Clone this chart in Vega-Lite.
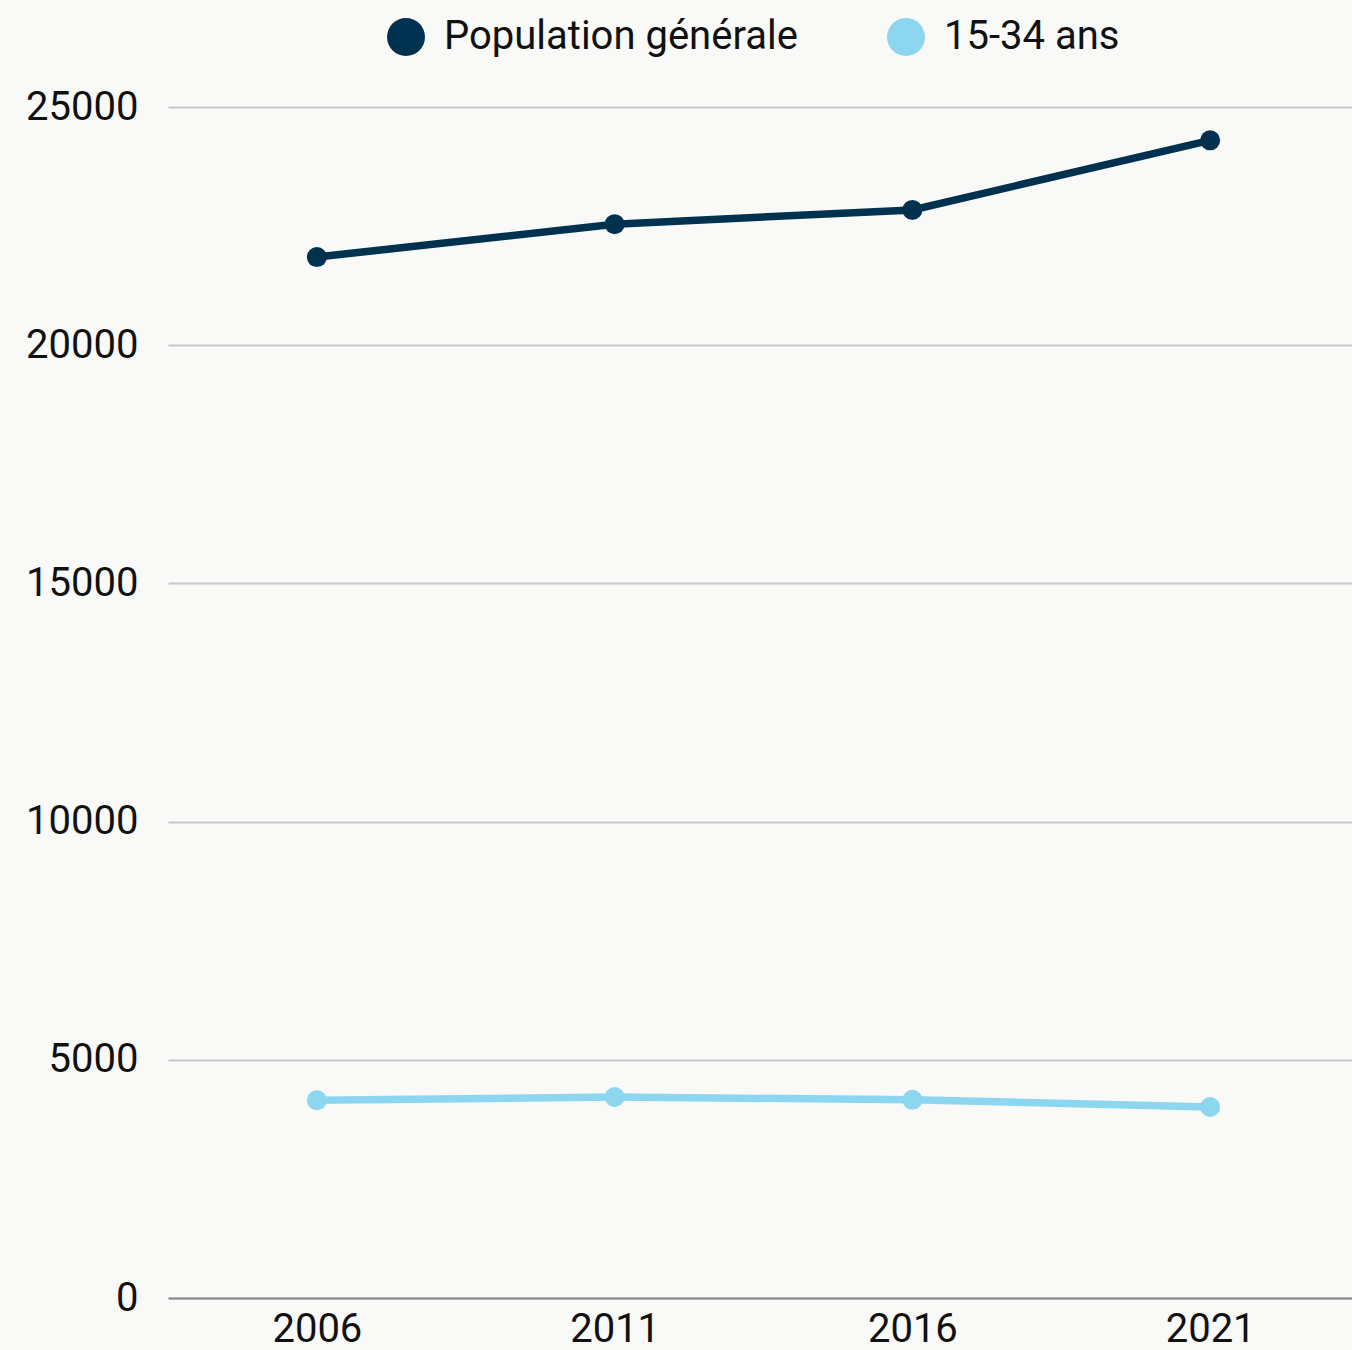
{
  "$schema": "https://vega.github.io/schema/vega-lite/v6.json",
  "width": 1191,
  "height": 1191,
  "autosize": {"type": "none"},
  "padding": {"left": 168, "top": 107, "right": 0, "bottom": 52},
  "background": "#f9f9f7",
  "config": {
    "view": {"stroke": null},
    "font": "Roboto"
  },
  "data": {
    "values": [
      {"annee": "2006", "serie": "Population générale", "valeur": 21850},
      {"annee": "2011", "serie": "Population générale", "valeur": 22540},
      {"annee": "2016", "serie": "Population générale", "valeur": 22840},
      {"annee": "2021", "serie": "Population générale", "valeur": 24300},
      {"annee": "2006", "serie": "15-34 ans", "valeur": 4150},
      {"annee": "2011", "serie": "15-34 ans", "valeur": 4220},
      {"annee": "2016", "serie": "15-34 ans", "valeur": 4160},
      {"annee": "2021", "serie": "15-34 ans", "valeur": 4010}
    ]
  },
  "encoding": {
    "x": {
      "field": "annee",
      "type": "ordinal",
      "scale": {"type": "point", "padding": 0.5},
      "axis": {
        "title": null,
        "labelAngle": 0,
        "labelFontSize": 40,
        "labelColor": "#111111",
        "labelPadding": 11,
        "ticks": false,
        "domainColor": "#888888",
        "domainWidth": 2,
        "grid": false
      }
    },
    "y": {
      "field": "valeur",
      "type": "quantitative",
      "scale": {"domain": [0, 25000], "nice": false},
      "axis": {
        "title": null,
        "values": [0, 5000, 10000, 15000, 20000, 25000],
        "format": "d",
        "labelFontSize": 40,
        "labelColor": "#111111",
        "labelPadding": 30,
        "ticks": false,
        "domain": false,
        "gridColor": "#c8c8c8",
        "gridWidth": 2
      }
    },
    "color": {
      "field": "serie",
      "type": "nominal",
      "scale": {
        "domain": ["Population générale", "15-34 ans"],
        "range": ["#003250", "#8dd6f0"]
      },
      "legend": {
        "title": null,
        "orient": "none",
        "direction": "horizontal",
        "legendX": 218,
        "legendY": -90,
        "symbolType": "circle",
        "symbolSize": 1444,
        "symbolStrokeWidth": 0,
        "labelFontSize": 40,
        "labelColor": "#111111",
        "labelOffset": 18,
        "columnPadding": 88,
        "labelLimit": 600
      }
    }
  },
  "layer": [
    {"mark": {"type": "line", "strokeWidth": 7.5}},
    {"mark": {"type": "point", "filled": true, "size": 400, "opacity": 1}}
  ]
}
